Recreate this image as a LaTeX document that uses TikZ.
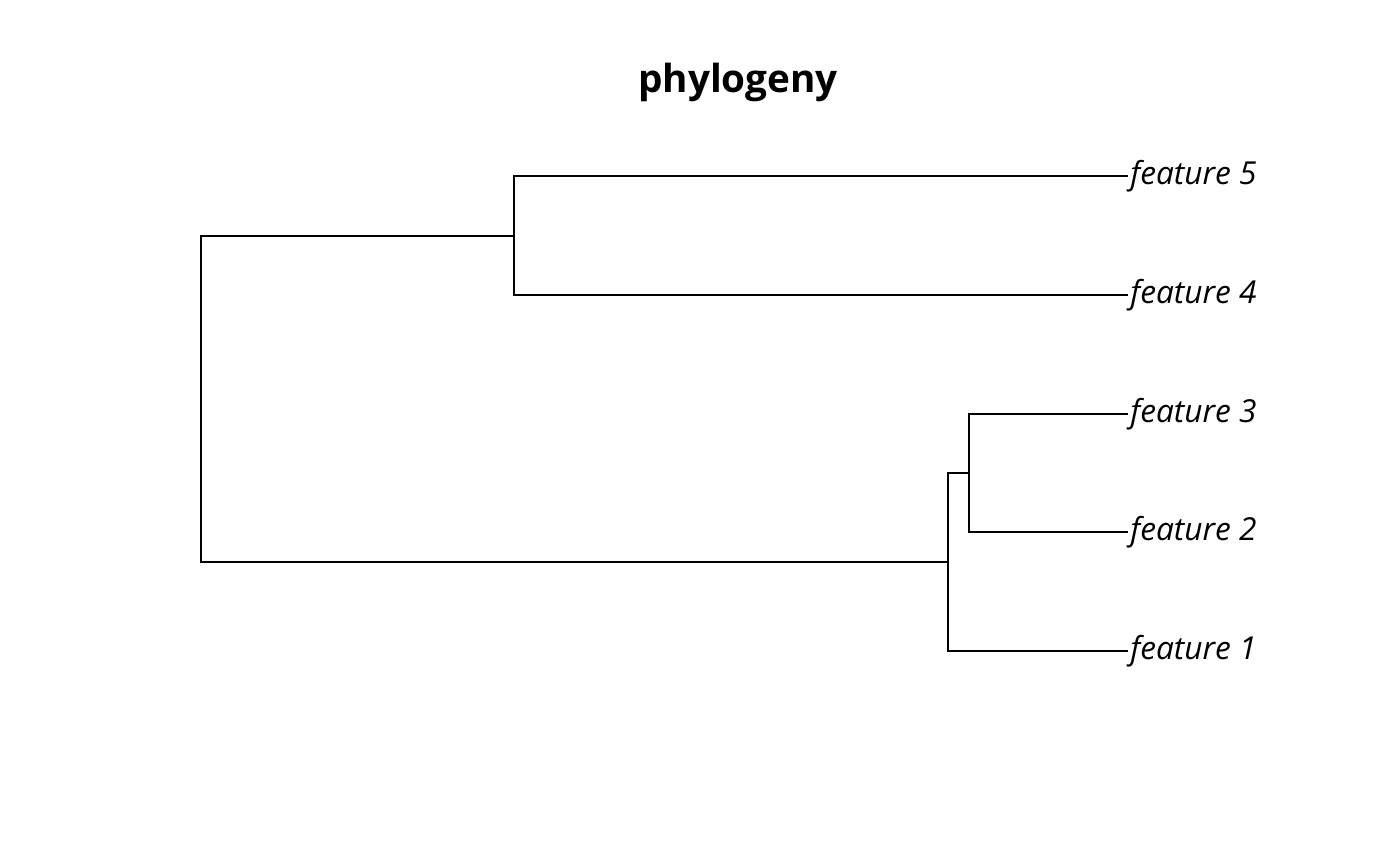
\documentclass[tikz,border=0pt]{standalone}
\usepackage{fontspec}
\setmainfont{Open Sans}
\begin{document}
\begin{tikzpicture}[x=0.01cm, y=-0.01cm,
			branch/.style={draw=black, line width=0.55pt},
			tiplabel/.style={anchor=west, inner sep=0.5pt, font=\fontsize{9}{11}\selectfont\itshape},
		]
		\useasboundingbox (0,0) rectangle (1400,866);

		\node[font=\fontsize{11}{13}\selectfont\bfseries] (title) at (738,82) {phylogeny};

		\node[tiplabel] (f5) at (1128,176) {feature 5};
		\node[tiplabel] (f4) at (1128,295) {feature 4};
		\node[tiplabel] (f3) at (1128,414) {feature 3};
		\node[tiplabel] (f2) at (1128,532) {feature 2};
		\node[tiplabel] (f1) at (1128,651) {feature 1};

		\coordinate (root) at (201,399);
		\coordinate (n45)  at (514,236);
		\coordinate (n123) at (948,562);
		\coordinate (n23)  at (969,473);

		\draw[branch] (root) |- (n45);
		\draw[branch] (root) |- (n123);
		\draw[branch] (n45) |- (f5.west);
		\draw[branch] (n45) |- (f4.west);
		\draw[branch] (n123) |- (n23);
		\draw[branch] (n123) |- (f1.west);
		\draw[branch] (n23) |- (f3.west);
		\draw[branch] (n23) |- (f2.west);

		\end{tikzpicture}
\end{document}
